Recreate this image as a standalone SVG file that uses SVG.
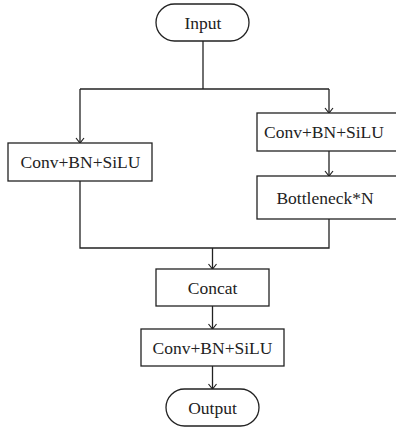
<svg xmlns="http://www.w3.org/2000/svg" width="396" height="427" viewBox="0 0 396 427">
<style>
.box{fill:#fff;stroke:#222;stroke-width:1.3}
.lbl{font-family:"Liberation Serif","Times New Roman",serif;font-size:17.5px;fill:#222;text-anchor:middle}
.edge{fill:none;stroke:#222;stroke-width:1.3}
</style>
<defs>
<marker id="arr" markerUnits="userSpaceOnUse" markerWidth="12" markerHeight="12" refX="6" refY="6" orient="auto">
<path d="M1,2 L6,6 L1,10" fill="none" stroke="#222" stroke-width="1.2"/>
</marker>
</defs>
<rect width="396" height="427" fill="#fff"/>
<g id="connectors">
<path class="edge" d="M203,41 V89"/>
<path class="edge" d="M80,89 H329"/>
<path class="edge" d="M80,89 V143" marker-end="url(#arr)"/>
<path class="edge" d="M329,89 V113" marker-end="url(#arr)"/>
<path class="edge" d="M329,151 V176" marker-end="url(#arr)"/>
<path class="edge" d="M80,181 V248 H329 V219"/>
<path class="edge" d="M212.5,248 V269" marker-end="url(#arr)"/>
<path class="edge" d="M212.5,306 V329" marker-end="url(#arr)"/>
<path class="edge" d="M212.5,366 V389" marker-end="url(#arr)"/>
</g>
<g id="input">
<rect class="box" x="156" y="4" width="93" height="37" rx="18.5"/>
<text class="lbl" x="203" y="29">Input</text>
</g>
<g id="conv-left">
<rect class="box" x="8" y="143" width="144" height="38"/>
<text class="lbl" x="80.5" y="168">Conv+BN+SiLU</text>
</g>
<g id="conv-right">
<rect class="box" x="257" y="113" width="150" height="38"/>
<text class="lbl" x="324" y="138">Conv+BN+SiLU</text>
</g>
<g id="bottleneck">
<rect class="box" x="257" y="176" width="150" height="43"/>
<text class="lbl" x="325" y="203.5">Bottleneck*N</text>
</g>
<g id="concat">
<rect class="box" x="156" y="269" width="113" height="37"/>
<text class="lbl" x="212.5" y="293.5">Concat</text>
</g>
<g id="conv-out">
<rect class="box" x="141" y="329" width="143" height="37"/>
<text class="lbl" x="212.5" y="353.5">Conv+BN+SiLU</text>
</g>
<g id="output">
<rect class="box" x="166" y="389" width="93" height="37" rx="18.5"/>
<text class="lbl" x="212.5" y="414">Output</text>
</g>
</svg>
